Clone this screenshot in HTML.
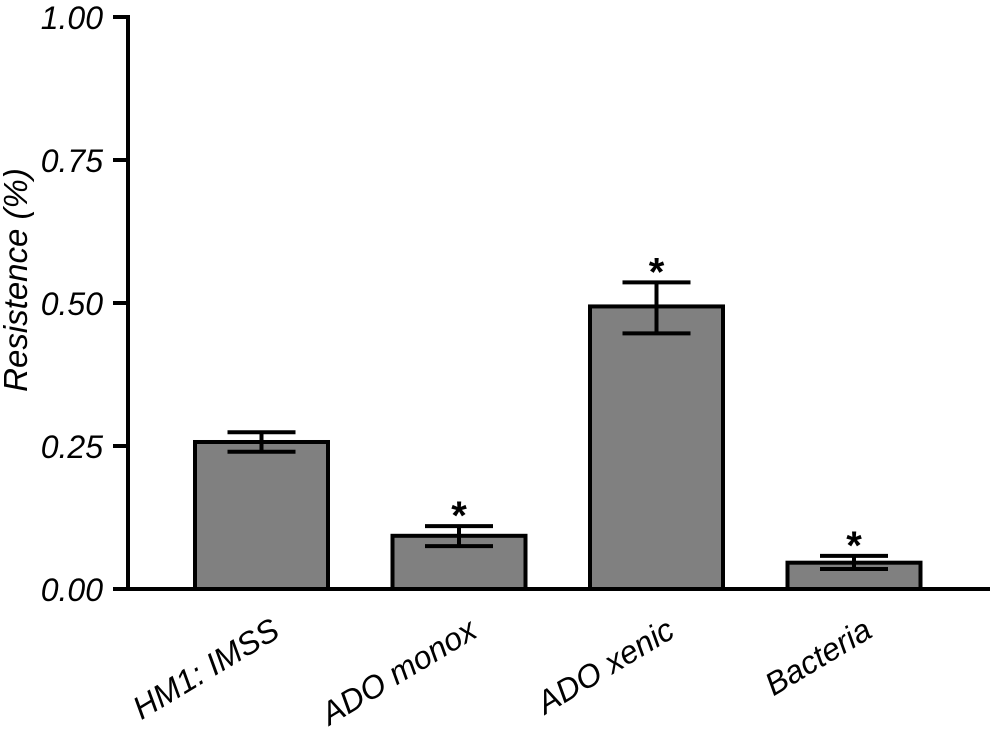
<!DOCTYPE html>
<html><head><meta charset="utf-8"><style>
html,body{margin:0;padding:0;background:#fff;}
svg{display:block;font-family:"Liberation Sans",sans-serif;font-style:italic;}
</style></head><body>
<svg id="chart" width="1004" height="753" viewBox="0 0 1004 753"></svg>
<script>
const categories = ["HM1: IMSS","ADO monox","ADO xenic","Bacteria"];
const values = [0.257,0.093,0.494,0.046];
const errUpper = [0.274,0.110,0.536,0.058];
const errLower = [0.240,0.075,0.447,0.035];
const significant = [false,true,true,true];
const yTicks = [0,0.25,0.5,0.75,1.0];
const yTickLabels = ["0.00","0.25","0.50","0.75","1.00"];

const svg = document.getElementById('chart');
const NS = 'http://www.w3.org/2000/svg';
const y0 = 589, y1 = 17, axisX = 128;
const yScale = v => y0 - v*(y0-y1);
const xStart = 195, step = 197.5, barW = 133;
const xScale = i => xStart + i*step;
function mk(tag, attrs, parent){
  const e = document.createElementNS(NS, tag);
  for (const k in attrs) e.setAttribute(k, attrs[k]);
  (parent||svg).appendChild(e);
  return e;
}
categories.forEach((c,i)=>{
  const x = xScale(i), yt = yScale(values[i]);
  const r = mk('rect',{x:x, y:yt, width:barW, height:y0-yt, fill:'#808080', stroke:'#000','stroke-width':4});
  
  
  const cx = x+barW/2, yu = yScale(errUpper[i]), yl = yScale(errLower[i]);
  const g = mk('g',{stroke:'#000','stroke-width':4});
  
  
  mk('line',{x1:cx,x2:cx,y1:yu,y2:yl},g);
  mk('line',{x1:cx-34,x2:cx+34,y1:yu,y2:yu},g);
  mk('line',{x1:cx-34,x2:cx+34,y1:yl,y2:yl},g);
  if (significant[i]) {
    const s = mk('text',{x:cx, y:yu+3, 'text-anchor':'middle', 'font-size':40, 'font-weight':'bold', 'font-style':'normal'});
    s.textContent = '*';
    
    
  }
  const t = mk('text',{x:0,y:0,'text-anchor':'end','font-size':32,transform:`translate(${cx+20},${636}) rotate(-31)`});
  t.textContent = c;
  
  
});
const ax = mk('g',{stroke:'#000','stroke-width':4,fill:'none'});


mk('line',{x1:axisX,x2:axisX,y1:y1-2,y2:y0+2},ax);
mk('line',{x1:113,x2:990,y1:y0,y2:y0},ax);
yTicks.forEach((v,i)=>{
  const y = yScale(v);
  mk('line',{x1:113,x2:axisX,y1:y,y2:y},ax);
  const t = mk('text',{x:103,y:y+12,'text-anchor':'end','font-size':32});
  t.textContent = yTickLabels[i];
  
  
});
const yt = mk('text',{x:0,y:0,'text-anchor':'middle','font-size':33,transform:'translate(27,280) rotate(-90)'});
yt.textContent = 'Resistence (%)';


</script>
</body></html>
